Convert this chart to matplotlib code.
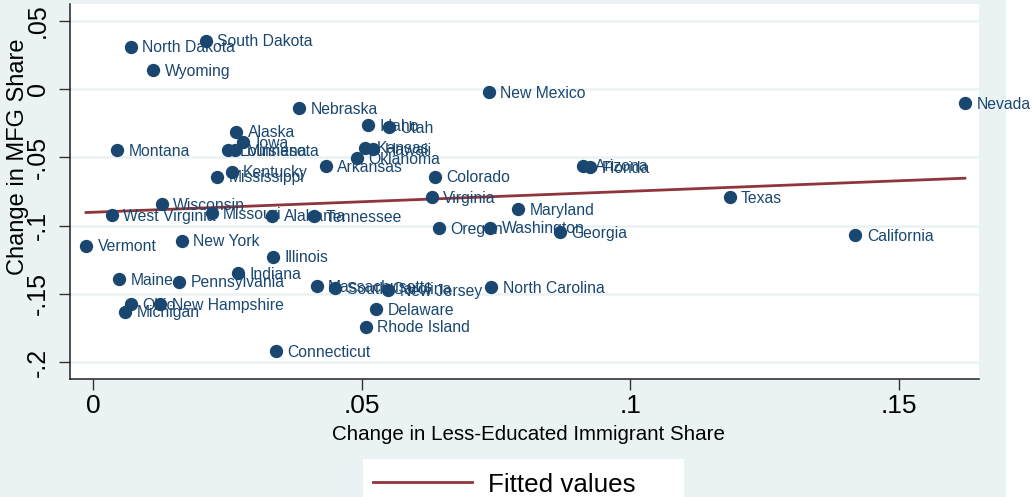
import numpy as np
import matplotlib
matplotlib.use("Agg")
import matplotlib.pyplot as plt
from matplotlib.patches import Rectangle
from matplotlib.lines import Line2D

plt.rcParams['font.family'] = ['Liberation Sans', 'DejaVu Sans']

# ---- data ----
states = ["North Dakota", "South Dakota", "Wyoming", "New Mexico", "Nevada", "Nebraska",
          "Idaho", "Utah", "Alaska", "Iowa", "Montana", "Minnesota", "Louisiana",
          "Kansas", "Hawaii", "Oklahoma", "Arkansas", "Colorado", "Kentucky", "Mississippi",
          "Arizona", "Florida", "Virginia", "Texas", "Wisconsin", "West Virginia",
          "Missouri", "Alabama", "Tennessee", "Maryland", "Oregon", "Washington",
          "Georgia", "California", "Vermont", "New York", "Illinois", "Indiana", "Maine",
          "Pennsylvania", "Massachusetts", "South Carolina", "New Jersey",
          "North Carolina", "Ohio", "New Hampshire", "Michigan", "Delaware",
          "Rhode Island", "Connecticut"]
immig_change = [0.00697, 0.02094, 0.01118, 0.07371, 0.16237, 0.03838,
                0.05123, 0.05514, 0.02662, 0.02798, 0.00447, 0.02640, 0.02515,
                0.05061, 0.05216, 0.04907, 0.04329, 0.06360, 0.02578, 0.02310,
                0.09128, 0.09253, 0.06304, 0.11852, 0.01274, 0.00343,
                0.02206, 0.03335, 0.04117, 0.07912, 0.06444, 0.07390,
                0.08685, 0.14197, -0.00136, 0.01647, 0.03342, 0.02701, 0.00479,
                0.01602, 0.04162, 0.04503, 0.05490,
                0.07409, 0.00702, 0.01243, 0.00591, 0.05272,
                0.05075, 0.03398]
mfg_change = [0.03097, 0.03536, 0.01391, -0.00242, -0.01025, -0.01413,
              -0.02672, -0.02804, -0.03133, -0.03880, -0.04466, -0.04466, -0.04466,
              -0.04297, -0.04414, -0.05073, -0.05637, -0.06420, -0.06054, -0.06420,
              -0.05615, -0.05732, -0.07906, -0.07906, -0.08419, -0.09224,
              -0.09100, -0.09275, -0.09297, -0.08821, -0.10212, -0.10154,
              -0.10505, -0.10710, -0.11471, -0.11105, -0.12277, -0.13492, -0.13909,
              -0.14107, -0.14458, -0.14568, -0.14714,
              -0.14495, -0.15761, -0.15761, -0.16303, -0.16105,
              -0.17401, -0.19180]

xticks = [0, 0.05, 0.1, 0.15]
xtick_labels = ["0", ".05", ".1", ".15"]
yticks = [-0.2, -0.15, -0.1, -0.05, 0, 0.05]
ytick_labels = ["-.2", "-.15", "-.1", "-.05", "0", ".05"]

NAVY = "#1A476F"
MAROON = "#90353B"
BG = "#EAF2F3"

W, H = 1032, 497
fig = plt.figure(figsize=(W / 100, H / 100), dpi=100)
fig.patch.set_facecolor("white")
fig.add_artist(Rectangle((0, 0), 1006 / W, 1, transform=fig.transFigure,
                         facecolor=BG, edgecolor="none", zorder=-2))

left, right, top, bottom = 69.5, 979.3, 4, 379
ax = fig.add_axes([left / W, 1 - bottom / H, (right - left) / W, (bottom - top) / H])
ax.set_facecolor("white")

x = np.array(immig_change)
y = np.array(mfg_change)

ax.scatter(x, y, s=92, color=NAVY, zorder=3, linewidths=0)
for name, xi, yi in zip(states, x, y):
    ax.annotate(name, (xi, yi), xytext=(8.3, -4.0), textcoords="offset points",
                fontsize=11.3, color=NAVY, va="baseline", ha="left", zorder=4)

b, a = np.polyfit(x, y, 1)
xf = np.array([x.min(), x.max()])
ax.plot(xf, a + b * xf, color=MAROON, lw=2.0, zorder=2, label="Fitted values")

ax.set_xlim(-0.00443, 0.16505)
ax.set_ylim(-0.2123, 0.0622)
ax.set_xticks(xticks)
ax.set_xticklabels(xtick_labels, fontsize=19)
ax.set_yticks(yticks)
ax.set_yticklabels(ytick_labels, fontsize=18, rotation=90, va="center")
ax.tick_params(axis="x", length=8, width=1, color="#333333", pad=3)
ax.tick_params(axis="y", length=8, width=1, color="#333333", pad=6)
ax.yaxis.grid(True, color=BG, lw=1.8)
ax.xaxis.grid(False)
ax.set_axisbelow(True)
for s in ["top", "right"]:
    ax.spines[s].set_visible(False)
for s in ["left", "bottom"]:
    ax.spines[s].set_color("#222222")
    ax.spines[s].set_linewidth(1.1)

fig.text(528.5 / W, 1 - 440 / H, "Change in Less-Educated Immigrant Share",
         ha="center", va="baseline", fontsize=14.8)
fig.text(18 / W, 1 - 157 / H, "Change in MFG Share", rotation=90,
         ha="center", va="center", fontsize=17)

# legend box
fig.add_artist(Rectangle((363 / W, -0.05), (684 - 363) / W, 0.05 + 1 - 459 / H,
                         transform=fig.transFigure, facecolor="white",
                         edgecolor="none", zorder=-1))
fig.add_artist(Line2D([373 / W, 472 / W], [1 - 482 / H, 1 - 482 / H],
                      transform=fig.transFigure, color=MAROON, lw=2.0))
fig.text(488 / W, 1 - 491.5 / H, "Fitted values", ha="left", va="baseline",
         fontsize=18.7)

fig.savefig("out.png", dpi=100, facecolor=fig.get_facecolor())
